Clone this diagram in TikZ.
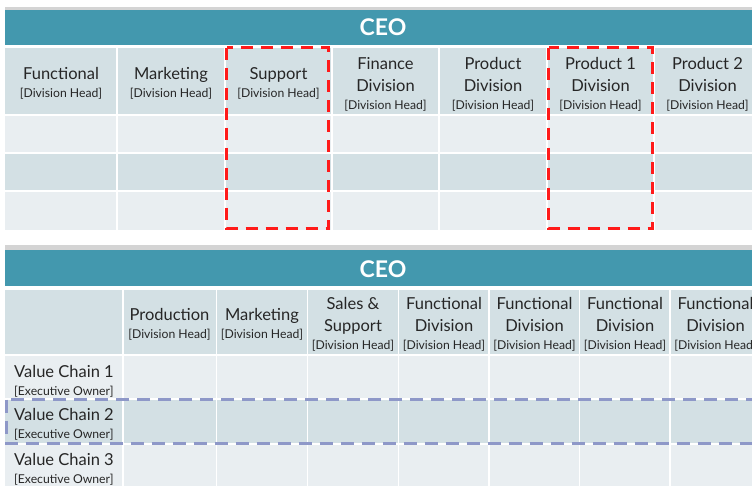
\documentclass[tikz,border=0pt]{standalone}
\usepackage{fontspec}
\setmainfont{Lato}
\definecolor{barteal}{HTML}{4398AE}
\definecolor{barrule}{HTML}{D4D4D4}
\definecolor{headcell}{HTML}{D3E0E4}
\definecolor{lightcell}{HTML}{E9EEF1}
\definecolor{darkcell}{HTML}{D3E0E4}
\definecolor{labeltext}{HTML}{262626}
\definecolor{focusred}{HTML}{FF1A1A}
\definecolor{focusblue}{HTML}{8E98C8}
\tikzset{
  ceo/.style={text=white, font=\fontsize{23}{26}\selectfont\bfseries, inner sep=0pt},
  headlabel/.style={text=labeltext, align=center, inner sep=0pt,
    font=\fontsize{16.5}{22}\selectfont},
  rowlabel/.style={text=labeltext, align=left, anchor=west, inner sep=0pt,
    font=\fontsize{16.5}{22}\selectfont},
  sep/.style={white, line width=1.6pt},
  redbox/.style={focusred, line width=3pt, dash pattern=on 12pt off 8pt},
  bluebox/.style={focusblue, line width=3pt, dash pattern=on 13pt off 8pt},
}
% second, smaller line of a label: [Division Head], [Executive Owner]
\newcommand\subhead[1]{\\[-4pt]\fontsize{12.2}{16}\selectfont[#1]}
\begin{document}
\begin{tikzpicture}[x=1pt,y=-1pt]
\useasboundingbox (0,0) rectangle (752,485);
\fill[white] (0,0) rectangle (752,485);
\clip (0,0) rectangle (752,485);

% ---------- functional organisation ----------
\fill[barrule] (5,6.5) rectangle (770,9.5);
\fill[barteal] (5,9.5) rectangle (770,44.5);
\node[ceo] (ceoA) at (383,27) {CEO};

\fill[headcell]  (5,48)  rectangle (770,115);
\fill[lightcell] (5,115) rectangle (770,153);
\fill[darkcell]  (5,153) rectangle (770,191);
\fill[lightcell] (5,191) rectangle (770,230);
\foreach \y in {115,153,191} \draw[sep] (5,\y) -- (770,\y);
\foreach \x in {117,225,332,439,547,654} \draw[sep] (\x,48) -- (\x,230);

\node[headlabel] (a1) at (61,83)    {Functional\subhead{Division Head}};
\node[headlabel] (a2) at (171,83)   {Marketing\subhead{Division Head}};
\node[headlabel] (a3) at (278.5,83) {Support\subhead{Division Head}};
\node[headlabel] (a4) at (385.5,84) {Finance\\Division\subhead{Division Head}};
\node[headlabel] (a5) at (493,84)   {Product\\Division\subhead{Division Head}};
\node[headlabel] (a6) at (600.5,84) {Product 1\\Division\subhead{Division Head}};
\node[headlabel] (a7) at (707.5,84) {Product 2\\Division\subhead{Division Head}};

\draw[redbox] (226.5,47.5) rectangle (328.5,228.5);
\draw[redbox] (548.5,47.5) rectangle (652.5,228.5);

% ---------- value-chain organisation ----------
\fill[barrule] (5,245) rectangle (770,250);
\fill[barteal] (5,250) rectangle (770,286);
\node[ceo] (ceoB) at (383,269) {CEO};

\fill[headcell]  (5,290) rectangle (770,355);
\fill[lightcell] (5,355) rectangle (770,399);
\fill[darkcell]  (5,399) rectangle (770,444);
\fill[lightcell] (5,444) rectangle (770,490);
\foreach \y in {355,399,444} \draw[sep] (5,\y) -- (770,\y);
\foreach \x in {123,216.5,307.5,398.5,489,579.5,670} \draw[sep] (\x,290) -- (\x,490);

\node[headlabel] (b1) at (169.5,324) {Production\subhead{Division Head}};
\node[headlabel] (b2) at (262,324)   {Marketing\subhead{Division Head}};
\node[headlabel] (b3) at (353,324)   {Sales \&\\Support\subhead{Division Head}};
\node[headlabel] (b4) at (444,324)   {Functional\\Division\subhead{Division Head}};
\node[headlabel] (b5) at (534.5,324) {Functional\\Division\subhead{Division Head}};
\node[headlabel] (b6) at (625,324)   {Functional\\Division\subhead{Division Head}};
\node[headlabel] (b7) at (715.5,324) {Functional\\Division\subhead{Division Head}};

\node[rowlabel] (r1) at (14,381) {Value Chain 1\subhead{Executive Owner}};
\node[rowlabel] (r2) at (14,424) {Value Chain 2\subhead{Executive Owner}};
\node[rowlabel] (r3) at (14,469) {Value Chain 3\subhead{Executive Owner}};

\draw[bluebox] (6.5,399.5) rectangle (790,443.5);
\end{tikzpicture}
\end{document}
